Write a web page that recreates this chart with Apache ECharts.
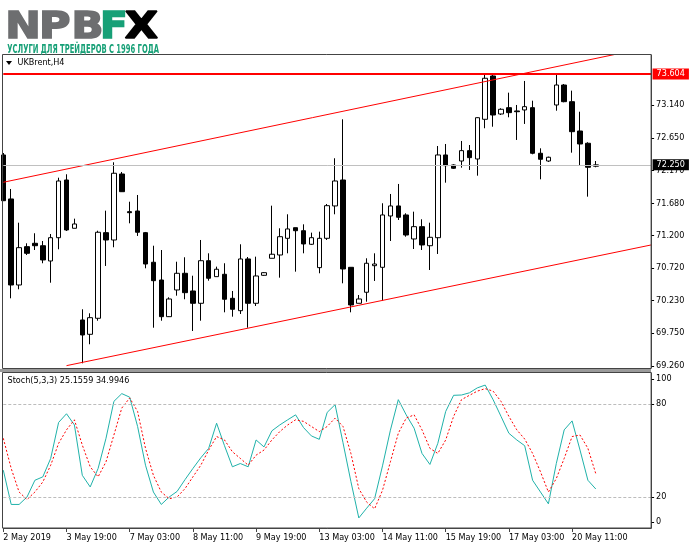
<!DOCTYPE html>
<html>
<head>
<meta charset="utf-8">
<title>UKBrent,H4</title>
<script src="https://cdn.jsdelivr.net/npm/echarts@6/dist/echarts.min.js"></script>
<style>
html, body { margin: 0; padding: 0; background: #fff; }
#chart { width: 691px; height: 549px; }
</style>
</head>
<body>
<div id="chart"></div>
<script>
// bar times (H4)
var times = [
	'2 May 11:00', '2 May 15:00', '2 May 19:00', '2 May 23:00',
	'3 May 03:00', '3 May 07:00', '3 May 11:00', '3 May 15:00', '3 May 19:00', '3 May 23:00',
	'6 May 03:00', '6 May 07:00', '6 May 11:00', '6 May 15:00', '6 May 19:00', '6 May 23:00',
	'7 May 03:00', '7 May 07:00', '7 May 11:00', '7 May 15:00', '7 May 19:00', '7 May 23:00',
	'8 May 03:00', '8 May 07:00', '8 May 11:00', '8 May 15:00', '8 May 19:00', '8 May 23:00',
	'9 May 03:00', '9 May 07:00', '9 May 11:00', '9 May 15:00', '9 May 19:00', '9 May 23:00',
	'10 May 03:00', '10 May 07:00', '10 May 11:00', '10 May 15:00', '10 May 19:00', '10 May 23:00',
	'13 May 03:00', '13 May 07:00', '13 May 11:00', '13 May 15:00', '13 May 19:00', '13 May 23:00',
	'14 May 03:00', '14 May 07:00', '14 May 11:00', '14 May 15:00', '14 May 19:00', '14 May 23:00',
	'15 May 03:00', '15 May 07:00', '15 May 11:00', '15 May 15:00', '15 May 19:00', '15 May 23:00',
	'16 May 03:00', '16 May 07:00', '16 May 11:00', '16 May 15:00', '16 May 19:00', '16 May 23:00',
	'17 May 03:00', '17 May 07:00', '17 May 11:00', '17 May 15:00', '17 May 19:00', '17 May 23:00',
	'20 May 03:00', '20 May 07:00', '20 May 11:00', '20 May 15:00', '20 May 19:00', '20 May 23:00'
];

var opens = [
	72.397, 71.743, 70.464, 71.034, 71.084, 71.048, 70.821, 71.167, 72.025, 71.307,
	69.944, 69.731, 69.969, 71.242, 71.133, 72.114, 71.554, 71.564, 71.242, 70.802,
	70.538, 69.993, 70.390, 70.638, 70.375, 70.192, 70.825, 70.588, 70.623, 70.266,
	70.082, 70.851, 70.192, 70.608, 70.861, 70.910, 71.158, 71.316, 71.271, 71.069,
	70.722, 71.158, 71.639, 72.025, 70.727, 70.192, 70.356, 70.751, 70.727, 71.490,
	71.639, 71.505, 71.148, 71.331, 71.048, 71.167, 72.397, 72.248, 72.307, 72.461,
	72.337, 72.927, 73.571, 73.006, 73.100, 73.051, 73.066, 73.100, 72.422, 72.307,
	73.140, 73.437, 73.189, 72.753, 72.571, 72.229
];
var closes = [
	71.717, 70.464, 71.019, 70.935, 71.048, 70.836, 71.167, 72.010, 71.282, 71.371,
	69.721, 69.978, 71.248, 71.133, 72.125, 71.851, 71.539, 71.248, 70.776, 70.528,
	69.993, 70.256, 70.638, 70.350, 70.192, 70.825, 70.564, 70.698, 70.252, 70.103,
	70.851, 70.192, 70.598, 70.647, 70.921, 71.182, 71.297, 71.271, 71.074, 71.167,
	71.158, 71.643, 72.010, 70.702, 70.167, 70.256, 70.787, 70.776, 71.505, 71.639,
	71.471, 71.207, 71.331, 71.059, 71.173, 72.397, 72.238, 72.199, 72.461, 72.357,
	72.951, 73.537, 72.991, 73.076, 73.026, 73.040, 73.115, 72.422, 72.333, 72.363,
	73.437, 73.189, 72.743, 72.560, 72.214, 72.250
];
var lows = [
	71.713, 70.266, 70.400, 70.910, 70.984, 70.787, 70.498, 70.995, 71.267, 71.307,
	69.300, 69.583, 69.933, 70.747, 71.025, 71.847, 71.381, 71.193, 70.712, 69.829,
	69.933, 69.988, 70.305, 70.252, 69.780, 69.933, 70.528, 70.588, 70.058, 69.993,
	70.033, 69.829, 70.152, 70.600, 70.861, 70.573, 70.935, 70.662, 70.935, 71.059,
	70.638, 71.133, 71.515, 70.489, 70.058, 70.192, 70.216, 70.524, 70.231, 71.118,
	71.430, 71.182, 70.999, 70.984, 70.687, 70.925, 71.985, 72.189, 72.208, 72.174,
	72.089, 72.794, 72.817, 72.991, 72.957, 72.620, 72.858, 72.407, 72.035, 72.293,
	73.055, 73.180, 72.431, 72.233, 71.777, 72.214
];
var highs = [
	72.426, 71.891, 71.390, 71.084, 71.233, 71.118, 71.222, 72.059, 72.110, 71.450,
	70.103, 70.043, 71.271, 71.569, 72.288, 72.144, 71.702, 71.802, 71.252, 71.048,
	70.984, 70.281, 70.810, 70.876, 70.602, 71.133, 70.935, 70.737, 70.787, 70.375,
	71.069, 70.880, 70.885, 70.655, 71.643, 71.307, 71.515, 71.316, 71.366, 71.242,
	71.257, 71.668, 72.348, 72.927, 70.727, 70.315, 70.861, 70.935, 71.679, 71.817,
	71.966, 71.530, 71.554, 71.441, 71.390, 72.530, 72.560, 72.258, 72.605, 72.545,
	72.957, 73.604, 73.595, 73.091, 73.323, 73.140, 73.497, 73.204, 72.496, 72.372,
	73.600, 73.452, 73.353, 73.040, 72.586, 72.307
];

// Stochastic (5,3,3): main (%K) and signal (%D)
var stochK = [
	37.3, 15.2, 15.2, 20.0, 30.8, 33.0, 44.9, 68.1, 73.7, 66.5,
	34.0, 26.5, 38.4, 57.9, 81.7, 86.7, 84.4, 65.5, 40.5, 23.2,
	15.2, 20.0, 23.6, 31.2, 38.4, 45.3, 51.4, 67.6, 53.1, 39.5,
	41.6, 39.5, 56.8, 52.3, 62.7, 66.5, 69.8, 73.0, 64.8, 59.4,
	57.2, 74.6, 79.6, 55.0, 30.0, 6.5, 12.8, 18.9, 40.1, 63.1,
	82.8, 73.0, 64.4, 48.1, 41.0, 54.6, 75.2, 85.6, 85.8, 87.2,
	90.4, 92.2, 82.8, 72.0, 61.1, 56.8, 53.1, 30.8, 23.2, 15.6,
	41.6, 63.3, 69.1, 50.3, 30.8, 25.1559
];
var stochD = [
	57.9, 38.4, 23.2, 18.4, 23.2, 29.7, 40.5, 54.6, 63.3, 69.8,
	53.5, 39.5, 33.0, 42.7, 60.0, 77.4, 83.9, 75.2, 51.4, 34.0,
	23.2, 18.9, 20.0, 25.4, 33.0, 40.5, 50.3, 59.0, 56.8, 49.2,
	44.9, 40.5, 47.0, 50.3, 56.8, 62.2, 66.5, 69.8, 68.8, 65.5,
	62.2, 65.5, 70.9, 65.5, 48.1, 25.4, 16.7, 12.4, 24.3, 42.7,
	61.1, 70.9, 73.0, 63.3, 51.4, 48.1, 56.8, 72.0, 82.8, 85.6,
	88.3, 89.9, 88.3, 81.7, 72.0, 63.3, 57.4, 48.1, 36.2, 23.2,
	31.9, 44.9, 59.0, 60.0, 51.4, 34.9946
];

// axis ticks / labels
var priceTicks = [69.26, 69.75, 70.23, 70.72, 71.20, 71.68, 72.17, 72.65, 73.14];
var stochTicks = [0, 20, 80, 100];
var stochLevels = [20, 80];
var timeLabels = ['2 May 2019', '3 May 19:00', '7 May 03:00', '8 May 11:00', '9 May 19:00',
	'13 May 03:00', '14 May 11:00', '15 May 19:00', '17 May 03:00', '20 May 11:00'];
var labelStep = 8;

// drawn objects: channel lines [bar index, price], horizontal levels
var upperChannel = [[0, 71.991], [82, 74.004]];
var lowerChannel = [[8, 69.265], [82, 71.059]];
var resistance = 73.604;
var lastPrice = 72.250;

var padBars = 7;
var font = '"DejaVu Sans Condensed", "Liberation Sans", sans-serif';

var cats = times.slice();
for (var i = 0; i < padBars; i++) cats.push('');
var candles = opens.map(function (o, i) { return [o, closes[i], lows[i], highs[i]]; });

// fit a piece of text into a box using the real glyph bounds
var mctx = document.createElement('canvas').getContext('2d');
function fitText(text, f, x0, x1, top, fill, sw) {
	sw = sw || 0;
	mctx.font = f;
	mctx.textBaseline = 'middle';
	var m = mctx.measureText(text);
	var s = (x1 - x0 - sw) / (m.actualBoundingBoxLeft + m.actualBoundingBoxRight);
	var el = {
		type: 'text', silent: true, z: 200,
		x: x0 + sw / 2 + m.actualBoundingBoxLeft * s, y: top + sw / 2 + m.actualBoundingBoxAscent, scaleX: s,
		style: { text: text, font: f, fill: fill, align: 'left', verticalAlign: 'middle' }
	};
	if (sw) { el.style.stroke = fill; el.style.lineWidth = sw; }
	return el;
}

var grey = '#6d6e70', green = '#17a077', orange = '#f39325';
var logoFont = 'bold 37px "DejaVu Sans", sans-serif';
var xFill = new echarts.graphic.LinearGradient(0, 0, 1, 0, [
	{ offset: 0, color: green }, { offset: 0.33, color: green },
	{ offset: 0.34, color: orange }, { offset: 1, color: orange }
]);

var myChart = echarts.init(document.getElementById('chart'));

var option = {
	animation: false,
	backgroundColor: '#fff',
	grid: [
		{ left: 3.3, top: 55, width: 647.8, height: 313, outerBoundsMode: 'none' },
		{ left: 3.3, top: 373, width: 647.8, height: 155, outerBoundsMode: 'none' }
	],
	xAxis: [
		{
			type: 'category', gridIndex: 0, data: cats, boundaryGap: false,
			axisLine: { show: false }, axisTick: { show: false },
			axisLabel: { show: false }, splitLine: { show: false }
		},
		{
			type: 'category', gridIndex: 1, data: cats, boundaryGap: false,
			axisLine: { show: true, lineStyle: { color: '#444', width: 1 } },
			axisTick: {
				show: true, length: 4, lineStyle: { color: '#444' },
				interval: function (idx) { return idx % labelStep === 0 && idx / labelStep < timeLabels.length; }
			},
			axisLabel: {
				interval: function (idx) { return idx % labelStep === 0 && idx / labelStep < timeLabels.length; },
				formatter: function (val, idx) { return timeLabels[idx / labelStep]; },
				align: 'left', margin: 5, fontSize: 9, fontFamily: font, color: '#000'
			},
			splitLine: { show: false }
		}
	],
	yAxis: [
		{
			type: 'value', gridIndex: 0, position: 'right', min: 69.23, max: 73.883,
			axisLine: { show: true, lineStyle: { color: '#444' } },
			axisTick: { show: true, length: 3, customValues: priceTicks, lineStyle: { color: '#000' } },
			axisLabel: {
				customValues: priceTicks, margin: 5, fontSize: 9, fontFamily: font, color: '#000',
				formatter: function (v) { return v.toFixed(3); }
			},
			splitLine: { show: false }
		},
		{
			type: 'value', gridIndex: 1, position: 'right', min: 0, max: 100,
			axisLine: { show: true, lineStyle: { color: '#444' } },
			axisTick: { show: true, length: 3, customValues: [4, 20, 80, 96], lineStyle: { color: '#000' } },
			axisLabel: {
				customValues: stochTicks, margin: 5, fontSize: 9, fontFamily: font, color: '#000',
				formatter: function (v) {
					if (v === 100) return '{top|100}';
					if (v === 0) return '{bot|0}';
					return v;
				},
				rich: {
					top: { fontSize: 9, fontFamily: font, color: '#000', padding: [12, 0, 0, 0] },
					bot: { fontSize: 9, fontFamily: font, color: '#000', padding: [0, 0, 13, 0] }
				}
			},
			splitLine: { show: false }
		}
	],
	series: [
		{
			name: 'UKBrent', type: 'candlestick', xAxisIndex: 0, yAxisIndex: 0,
			data: candles, barWidth: 5, silent: true,
			itemStyle: {
				color: '#fff', color0: '#000',
				borderColor: '#000', borderColor0: '#000', borderColorDoji: '#000', borderWidth: 1
			},
			markLine: {
				silent: true, symbol: ['none', 'none'], animation: false,
				data: [
					{
						yAxis: lastPrice,
						lineStyle: { color: '#c0c0c0', width: 1, type: 'solid' },
						label: {
							show: true, position: 'end', distance: 1.5, formatter: lastPrice.toFixed(3),
							backgroundColor: '#000', color: '#fff', padding: [1, 4, 1, 4],
							fontSize: 9, fontFamily: font
						}
					},
					{
						yAxis: resistance,
						lineStyle: { color: '#ff0000', width: 2, type: 'solid' },
						label: {
							show: true, position: 'end', distance: 1.5, formatter: resistance.toFixed(3),
							backgroundColor: '#ff0000', color: '#fff', padding: [1, 4, 1, 4],
							fontSize: 9, fontFamily: font
						}
					}
				]
			}
		},
		{
			type: 'line', xAxisIndex: 0, yAxisIndex: 0, data: upperChannel,
			showSymbol: false, silent: true, lineStyle: { color: '#ff0000', width: 1 }
		},
		{
			type: 'line', xAxisIndex: 0, yAxisIndex: 0, data: lowerChannel,
			showSymbol: false, silent: true, lineStyle: { color: '#ff0000', width: 1 }
		},
		{
			name: 'Stoch main', type: 'line', xAxisIndex: 1, yAxisIndex: 1, data: stochK,
			showSymbol: false, silent: true, lineStyle: { color: '#20b2aa', width: 1 },
			markLine: {
				silent: true, symbol: ['none', 'none'], label: { show: false },
				lineStyle: { color: '#bcbcbc', width: 1, type: [3, 2] },
				data: stochLevels.map(function (v) { return { yAxis: v }; })
			}
		},
		{
			name: 'Stoch signal', type: 'line', xAxisIndex: 1, yAxisIndex: 1, data: stochD,
			showSymbol: false, silent: true, lineStyle: { color: '#ff0000', width: 1, type: [2, 2] }
		}
	],
	graphic: [
		// panel frames and separator
		{ type: 'rect', silent: true, z: 100, shape: { x: 2.5, y: 54.5, width: 648.6, height: 314 },
			style: { fill: 'none', stroke: '#444', lineWidth: 1 } },
		{ type: 'rect', silent: true, z: 100, shape: { x: 0, y: 369, width: 651, height: 3 },
			style: { fill: '#9a9a9a' } },
		{ type: 'rect', silent: true, z: 100, shape: { x: 2.5, y: 372.5, width: 648.6, height: 155.5 },
			style: { fill: 'none', stroke: '#444', lineWidth: 1 } },
		// titles
		{ type: 'polygon', silent: true, z: 100, shape: { points: [[6, 61], [12, 61], [9, 65]] },
			style: { fill: '#000' } },
		{ type: 'text', silent: true, z: 100, x: 17.5, y: 63,
			style: { text: 'UKBrent,H4', font: '9px ' + font, fill: '#000', verticalAlign: 'middle' } },
		{ type: 'text', silent: true, z: 100, x: 7.5, y: 380.5,
			style: { text: 'Stoch(5,3,3) ' + stochK[stochK.length - 1].toFixed(4) + ' ' + stochD[stochD.length - 1].toFixed(4),
				font: '9px ' + font, fill: '#000', verticalAlign: 'middle' } },
		// logo
		fitText('N', logoFont, 8, 38.3, 10, grey, 1.6),
		fitText('P', logoFont, 41.7, 70, 10, grey, 1.6),
		fitText('B', logoFont, 74, 101.7, 10, grey, 1.6),
		fitText('F', logoFont, 102.5, 126, 10, green, 1.6),
		fitText('X', logoFont, 124, 158.3, 10, xFill, 1.6),
		fitText('УСЛУГИ ДЛЯ ТРЕЙДЕРОВ С 1996 ГОДА', 'bold 13px "Liberation Sans Narrow", "DejaVu Sans Condensed", sans-serif',
			7.3, 159, 41.3, green)
	]
};
myChart.setOption(option);
</script>
</body>
</html>
